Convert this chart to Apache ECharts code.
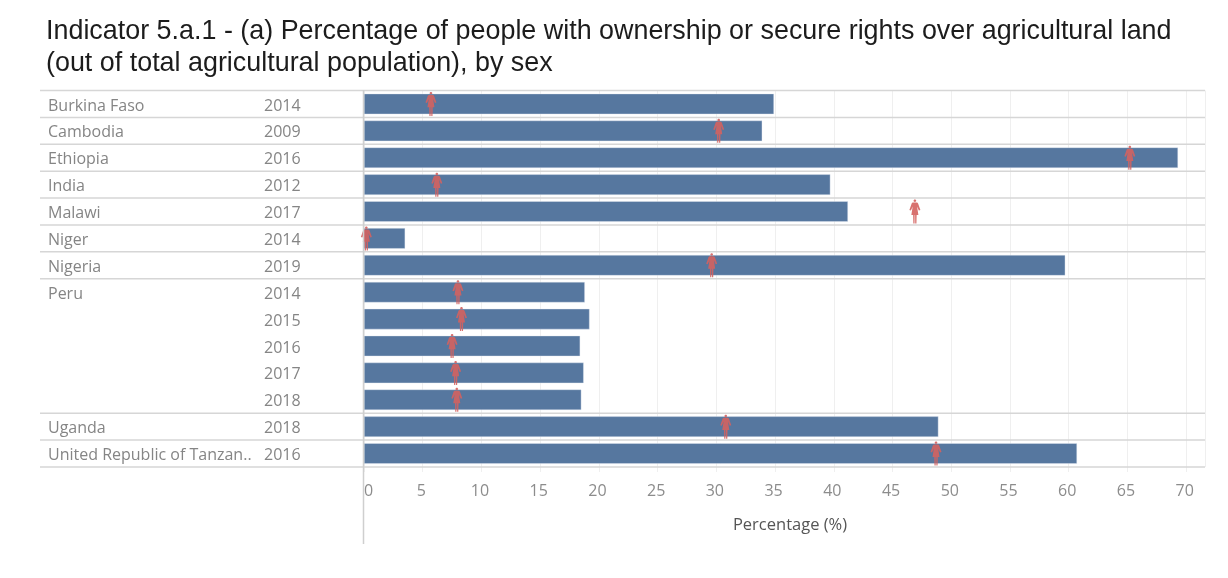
<!DOCTYPE html>
<html><head><meta charset="utf-8">
<style>html,body{margin:0;padding:0;background:#fff}#c{width:1228px;height:578px}</style>
<script src="https://cdn.jsdelivr.net/npm/echarts@6/dist/echarts.min.js"></script>
</head><body><div id="c"></div>
<script>
const titleText = "Indicator 5.a.1 - (a) Percentage of people with ownership or secure rights over agricultural land\n(out of total agricultural population), by sex";
const countries = ["Burkina Faso","Cambodia","Ethiopia","India","Malawi","Niger","Nigeria","Peru","","","","","Uganda","United Republic of Tanzan.."];
const years = ["2014","2009","2016","2012","2017","2014","2019","2014","2015","2016","2017","2018","2018","2016"];
const totalValues = [34.9,33.9,69.3,39.7,41.2,3.5,59.7,18.8,19.2,18.4,18.7,18.5,48.9,60.7];
const femaleValues = [5.7,30.2,65.2,6.2,46.9,0.2,29.6,8.0,8.3,7.5,7.8,7.9,30.8,48.7];
const rowBoundaries = [-0.5,0.5,1.5,2.5,3.5,4.5,5.5,6.5,11.5,12.5,13.5];
const xTickStep = 5;
const rowKeys = years.map((_, i) => i);

const womanPath = "path://M50,0 C58,0 62,5 62,11 C62,17 58,21 50,21 C42,21 38,17 38,11 C38,5 42,0 50,0 Z M34,25 L66,25 C74,25 78,30 80,36 L100,88 L86,92 L70,58 L82,128 L66,128 L64,200 L53,200 L52,128 L48,128 L47,200 L36,200 L34,128 L18,128 L30,58 L14,92 L0,88 L20,36 C22,30 26,25 34,25 Z";

const chart = echarts.init(document.getElementById('c'), null, {renderer:'canvas'});
const labelFont = '"Open Sans", sans-serif';
const baseYAxis = {
  type:'category', inverse:true, position:'left', data:rowKeys,
  axisLine:{show:false}, axisTick:{show:false}, splitLine:{show:false}
};
chart.setOption({
  animation:false,
  backgroundColor:'#fff',
  title:{
    text:titleText, left:41, top:11,
    textStyle:{fontFamily:'"Liberation Sans"',fontSize:26.9,fontWeight:'normal',color:'#1c1c1c',lineHeight:32}
  },
  grid:[
    {left:364,right:23,top:90.5,height:376.5},
    {left:364,right:23,top:92.5,height:376.5}
  ],
  xAxis:[{
    type:'value', min:0, max:71.6, interval:xTickStep,
    name:'Percentage (%)', nameLocation:'middle', nameGap:50,
    nameTextStyle:{fontFamily:labelFont,fontSize:16.5,color:'#555',padding:[0,0,0,11]},
    axisLine:{show:false},
    axisTick:{show:true,length:5,lineStyle:{color:'#efefef',width:1}},
    axisLabel:{margin:16,padding:[0,3,0,0],fontFamily:labelFont,fontSize:16,color:'#8c8c8c',alignMinLabel:'left',showMaxLabel:false,
      formatter:v=>String(v)},
    splitLine:{show:true,lineStyle:{color:'#efefef',width:1}}
  },{
    type:'value', gridIndex:1, min:0, max:71.6, interval:xTickStep, show:false
  }],
  yAxis:[
    Object.assign({},baseYAxis,{axisLabel:{show:false}}),
    Object.assign({},baseYAxis,{gridIndex:1,axisLabel:{margin:316,align:'left',fontFamily:labelFont,fontSize:16,color:'#858585',
      formatter:(v,i)=>countries[i]}}),
    Object.assign({},baseYAxis,{gridIndex:1,axisLabel:{margin:100,align:'left',fontFamily:labelFont,fontSize:16,color:'#858585',
      formatter:(v,i)=>years[i]}})
  ],
  graphic:[{type:'line',z:5,shape:{x1:363.5,y1:90,x2:363.5,y2:544},style:{stroke:'#cfcfcf',lineWidth:1.5}}],
  series:[
    {type:'custom',name:'separators',silent:true,clip:false,z:1,data:rowBoundaries,
     renderItem:(p,api)=>{
       const v=api.value(0);
       const band=api.size([0,1])[1];
       const y=api.coord([0,0])[1]+v*band;
       return {type:'line',shape:{x1:40,y1:y,x2:1205,y2:y},style:{stroke:'#d6d6d6',lineWidth:1.5}};
     },
     encode:{x:0}},
    {type:'bar',name:'Total',data:totalValues,barWidth:20.5,z:2,
     itemStyle:{color:'#56779f',borderColor:'#e6ebf2',borderWidth:0.4}},
    {type:'scatter',name:'Female',z:3,clip:false,
     data:femaleValues.map((v,i)=>[v,i]),
     symbol:womanPath,symbolSize:[11,24],symbolKeepAspect:false,
     itemStyle:{color:'#d4625f',opacity:0.9}}
  ]
});
</script></body></html>
